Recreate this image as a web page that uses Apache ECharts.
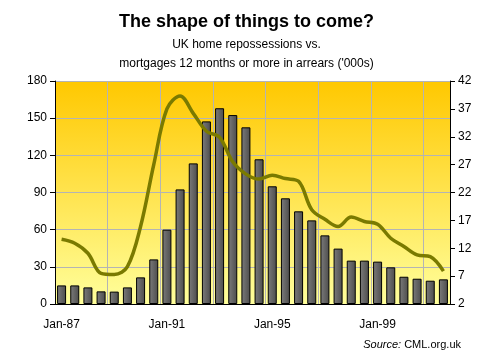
<!DOCTYPE html>
<html>
<head>
<meta charset="utf-8">
<script src="https://cdn.jsdelivr.net/npm/echarts@6/dist/echarts.min.js"></script>
<style>
html,body{margin:0;padding:0;background:#fff;}
#c{width:493px;height:360px;}
</style>
</head>
<body>
<div id="c"></div>
<script>
const years = ['87','88','89','90','91','92','93','94','95','96','97','98','99','00','01'];
const categories = [];
years.forEach(function(y){ categories.push('Jan-' + y); categories.push('Jul-' + y); });
const repossessions = [15, 15, 13.4, 10.2, 10, 13.4, 21.5, 36, 60, 92.5, 113.5, 147.4, 158, 152.5, 142.6, 116.8, 95, 85.3, 74.8, 67.5, 55.4, 44.7, 35, 35, 34.2, 29.6, 22, 20.4, 18.8, 19.9];
const arrears = [13.6, 12.9, 11.1, 7.5, 7.3, 8.7, 15.9, 27, 37, 39.3, 36.2, 33, 31.9, 27.5, 25.3, 24.4, 25.1, 24.5, 24, 18.9, 17.2, 15.9, 17.6, 16.8, 16.3, 13.8, 12.3, 10.8, 10.5, 7.9];
const leftTicks = {min: 0, max: 180, interval: 30};
const rightTicks = {min: 2, max: 42, interval: 5};

const chart = echarts.init(document.getElementById('c'), null, {renderer: 'canvas'});
const font = 'Liberation Sans, Arial, sans-serif';
chart.setOption({
  animation: false,
  backgroundColor: '#ffffff',
  title: [
    {text: 'The shape of things to come?', left: 'center', top: 8,
     textStyle: {fontFamily: font, fontSize: 18, fontWeight: 'bold', color: '#000'}},
    {text: 'UK home repossessions vs.\nmortgages 12 months or more in arrears (\'000s)', left: 'center', top: 30,
     textStyle: {fontFamily: font, fontSize: 12, fontWeight: 'normal', color: '#000', lineHeight: 19, align: 'center'}},
    {text: '{i|Source:} CML.org.uk', right: 27, top: 334,
     textStyle: {fontFamily: font, fontSize: 11, fontWeight: 'normal', color: '#000',
       rich: {i: {fontFamily: font, fontSize: 11, fontStyle: 'italic', color: '#000'}}}}
  ],
  grid: {left: 55, right: 43, top: 81, bottom: 56, show: true, borderWidth: 0,
    backgroundColor: new echarts.graphic.LinearGradient(0, 0, 0, 1, [
      {offset: 0, color: '#ffc800'}, {offset: 1, color: '#ffff9c'}])},
  xAxis: {
    type: 'category', data: categories, boundaryGap: true,
    axisLine: {lineStyle: {color: '#000', width: 1}},
    axisTick: {show: false},
    axisLabel: {interval: 7, color: '#000', fontFamily: font, fontSize: 12, margin: 15},
    splitLine: {show: true, interval: 3, lineStyle: {color: '#b4b4b4', width: 1}}
  },
  yAxis: [
    {type: 'value', min: leftTicks.min, max: leftTicks.max, interval: leftTicks.interval, position: 'left',
     axisLine: {show: true, lineStyle: {color: '#000'}},
     axisTick: {show: true, length: 5, lineStyle: {color: '#000'}},
     axisLabel: {color: '#000', fontFamily: font, fontSize: 12, margin: 8},
     splitLine: {show: true, lineStyle: {color: '#b4b4b4', width: 1}}},
    {type: 'value', min: rightTicks.min, max: rightTicks.max, interval: rightTicks.interval, position: 'right',
     axisLine: {show: true, lineStyle: {color: '#000'}},
     axisTick: {show: true, length: 5, lineStyle: {color: '#000'}},
     axisLabel: {color: '#000', fontFamily: font, fontSize: 12, margin: 8},
     splitLine: {show: false}}
  ],
  series: [
    {type: 'bar', data: repossessions, yAxisIndex: 0, barWidth: 9,
     itemStyle: {color: new echarts.graphic.LinearGradient(0, 0, 1, 0, [
        {offset: 0, color: '#7c7c7c'}, {offset: 1, color: '#4c4c4c'}]),
       borderColor: '#000', borderWidth: 1}},
    {type: 'line', data: arrears, yAxisIndex: 1, smooth: 0.35, symbol: 'none',
     lineStyle: {color: '#7a7a00', width: 3.5}}
  ]
});
</script>
</body>
</html>
